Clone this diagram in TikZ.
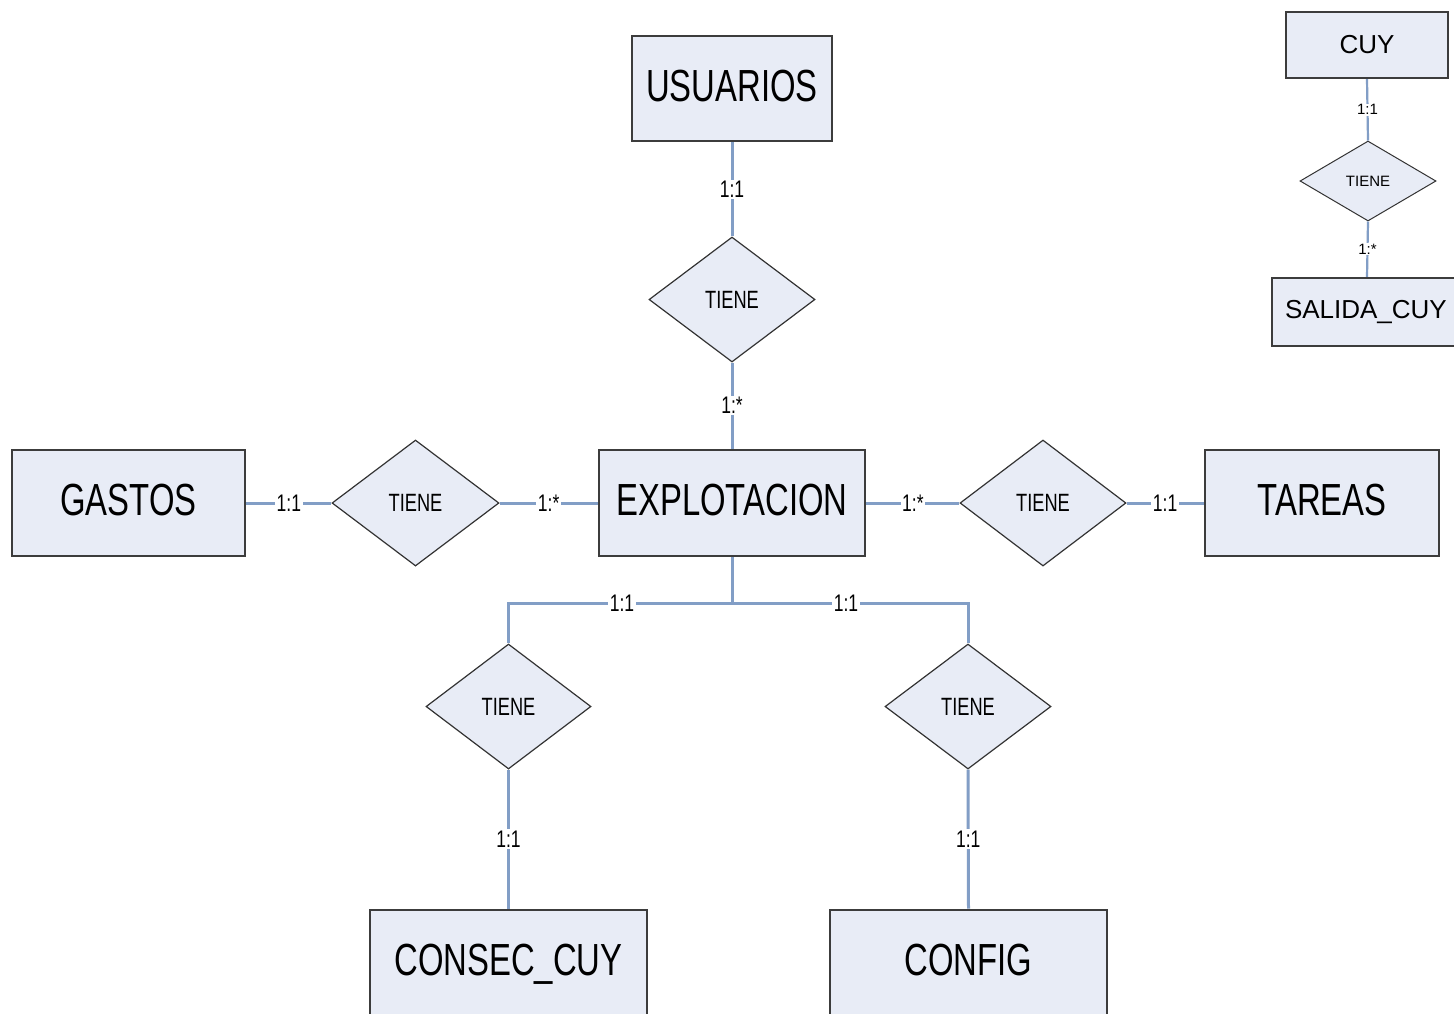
\documentclass[tikz,border=0pt]{standalone}
\usepackage{fontspec}
\setmainfont{Liberation Sans}
\newfontfamily\cond[FakeStretch=0.73]{Liberation Sans}
\usetikzlibrary{shapes.geometric}
\definecolor{boxfill}{RGB}{232,236,246}
\definecolor{boxline}{RGB}{60,60,60}
\definecolor{conn}{RGB}{130,158,198}
\tikzset{
  entity/.style={draw=boxline, line width=2.7pt, fill=boxfill, rectangle, inner sep=0pt},
  bigent/.style={entity, font=\cond\fontsize{45}{50}\selectfont, text height=33pt, text depth=8pt},
  smallent/.style={entity, line width=2.2pt, font=\fontsize{26}{30}\selectfont},
  rel/.style={draw=black!80, line width=1.2pt, fill=boxfill, diamond, inner sep=0pt, font=\cond\fontsize{25}{28}\selectfont},
  smallrel/.style={draw=black!80, line width=1pt, fill=boxfill, diamond, inner sep=0pt, font=\fontsize{15}{18}\selectfont},
  conline/.style={draw=conn, line width=3pt},
  card/.style={fill=white, inner sep=1.5pt, font=\cond\fontsize{24}{26}\selectfont},
  smallcard/.style={fill=white, inner sep=1pt, font=\fontsize{15}{17}\selectfont}
}
\begin{document}
\begin{tikzpicture}[x=1pt,y=-1pt]
\clip (0,0) rectangle (1454,1013);
\fill[white] (0,0) rectangle (1454,1013);

% entities
\node[bigent, minimum width=200pt, minimum height=105pt] (usuarios) at (732,88.5) {USUARIOS};
\node[bigent, minimum width=266pt, minimum height=106pt] (explot) at (732,503) {EXPLOTACION};
\node[bigent, minimum width=233pt, minimum height=106pt] (gastos) at (128.5,503) {GASTOS};
\node[bigent, minimum width=234pt, minimum height=106pt] (tareas) at (1322,503) {TAREAS};
\node[bigent, minimum width=277pt, minimum height=105pt] (consec) at (508.5,962.5) {CONSEC\_CUY};
\node[bigent, minimum width=277pt, minimum height=105pt] (config) at (968.5,962.5) {CONFIG};
\node[smallent, minimum width=162pt, minimum height=66pt] (cuy) at (1367,45) {CUY};
\node[smallent, minimum width=190pt, minimum height=68pt, text width=164pt, align=left] (salida) at (1367,312) {SALIDA\_CUY};

% relationships
\node[rel, minimum width=166pt, minimum height=125pt, aspect=1.33] (rtop) at (732,299.5) {TIENE};
\node[rel, minimum width=167pt, minimum height=126pt, aspect=1.33] (rleft) at (415.5,503) {TIENE};
\node[rel, minimum width=166pt, minimum height=126pt, aspect=1.33] (rright) at (1043,503) {TIENE};
\node[rel, minimum width=165pt, minimum height=125pt, aspect=1.33] (rbl) at (508.5,706.5) {TIENE};
\node[rel, minimum width=166pt, minimum height=125pt, aspect=1.33] (rbr) at (968,706.5) {TIENE};
\node[smallrel, minimum width=136pt, minimum height=80pt, aspect=1.7] (rcuy) at (1368,181) {TIENE};

% connectors
\draw[conline] (usuarios.south) -- node[card]{1:1} (rtop.north);
\draw[conline] (rtop.south) -- node[card]{1:*} (explot.north);
\draw[conline] (gastos.east) -- node[card]{1:1} (rleft.west);
\draw[conline] (rleft.east) -- node[card]{1:*} (explot.west);
\draw[conline] (explot.east) -- node[card]{1:*} (rright.west);
\draw[conline] (rright.east) -- node[card]{1:1} (tareas.west);

\coordinate (hub) at (732,603);
\coordinate (bl) at (508.5,603);
\coordinate (br) at (968,603);
\draw[conline] (explot.south) -- (hub);
\draw[conline] (hub) -- (bl) -- (rbl.north);
\draw[conline] (hub) -- (br) -- (rbr.north);
\node[card] (c1) at (622,603) {1:1};
\node[card] (c2) at (846,603) {1:1};

\draw[conline] (rbl.south) -- node[card]{1:1} (consec.north);
\draw[conline] (rbr.south) -- node[card]{1:1} (config.north);

\draw[conline, line width=2.2pt] (cuy.south) -- node[smallcard]{1:1} (rcuy.north);
\draw[conline, line width=2.2pt] (rcuy.south) -- node[smallcard]{1:*} (salida.north);
\end{tikzpicture}
\end{document}
